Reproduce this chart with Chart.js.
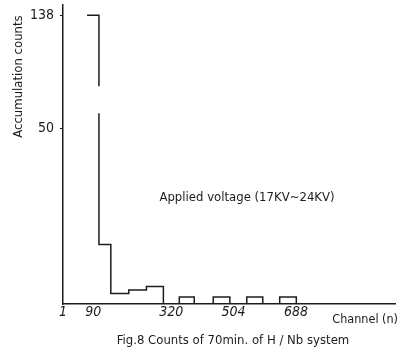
<!DOCTYPE html>
<html>
<head>
<meta charset="utf-8">
<script src="https://cdn.jsdelivr.net/npm/chart.js@4/dist/chart.umd.min.js"></script>
<style>
  html, body { margin: 0; background: #fff; }
  #wrap { width: 402px; height: 362px; }
</style>
</head>
<body>
<div id="wrap"><canvas id="chart"></canvas></div>
<script>
// histogram: each bin starts at a channel and holds a count
const binStarts = [72, 107, 142, 195, 247, 297, 344, 388, 444, 493, 543, 590, 640, 689];
const binCounts = [138, 17, 3, 4, 5, 0, 2, 0, 2, 0, 2, 0, 2, 0];
const channelTicks = [1, 90, 320, 504, 688];
const countTicks = [50, 138];
const yTitle = 'Accumulation counts';
const caption = 'Fig.8 Counts of 70min. of H / Nb system';
const note = 'Applied voltage (17KV~24KV)';

const BREAK_AT = 50;     // y axis is squeezed above this count
const LOW_SHARE = 0.586; // share of axis height used by 0..50

const ink = '#1c1c1c';
const font = "'DejaVu Sans Condensed', 'DejaVu Sans', sans-serif";

// linear scale with a break: 0..50 normal, above that compressed
class BrokenLinearScale extends Chart.LinearScale {
  toDecimal(v) {
    if (v <= BREAK_AT) return (v - this.min) / (BREAK_AT - this.min) * LOW_SHARE;
    return LOW_SHARE + (v - BREAK_AT) / (this.max - BREAK_AT) * (1 - LOW_SHARE);
  }
  getPixelForValue(v) {
    if (v === null || isNaN(v)) return NaN;
    return this.getPixelForDecimal(this.toDecimal(v));
  }
  getValueForPixel(p) {
    const d = this.getDecimalForPixel(p);
    if (d <= LOW_SHARE) return this.min + d / LOW_SHARE * (BREAK_AT - this.min);
    return BREAK_AT + (d - LOW_SHARE) / (1 - LOW_SHARE) * (this.max - BREAK_AT);
  }
}
BrokenLinearScale.id = 'brokenLinear';
BrokenLinearScale.defaults = Chart.LinearScale.defaults;
Chart.register(BrokenLinearScale);

// gap in the tall bar where the axis is broken, plus the loose texts
const extras = {
  id: 'extras',
  afterDatasetsDraw(chart) {
    const { ctx, scales: { x, y } } = chart;
    const px = x.getPixelForValue(binStarts[1]);
    const top = y.getPixelForValue(83), bottom = y.getPixelForValue(62);
    ctx.save();
    ctx.fillStyle = '#fff';
    ctx.fillRect(px - 3, top, 6, bottom - top);
    ctx.restore();
  },
  afterDraw(chart) {
    const { ctx, scales: { x, y } } = chart;
    ctx.save();
    ctx.fillStyle = ink;
    ctx.textBaseline = 'middle';
    ctx.textAlign = 'center';
    ctx.font = '13px ' + font;
    ctx.fillText(note, 247, 198);
    ctx.fillText(caption, 233, 341);
    ctx.textAlign = 'right';
    ctx.font = '12.5px ' + font;
    ctx.fillText('Channel (n)', x.right + 3, 320);

    // y title sits up by the 138 label, reading bottom to top
    ctx.translate(19, y.getPixelForValue(138));
    ctx.rotate(-Math.PI / 2);
    ctx.textAlign = 'right';
    ctx.font = '13px ' + font;
    ctx.fillText(yTitle, 0, 0);
    ctx.restore();
  }
};

new Chart(document.getElementById('chart'), {
  type: 'line',
  data: {
    datasets: [{
      data: binStarts.map((c, i) => ({ x: c, y: binCounts[i] })),
      stepped: 'before',
      borderColor: ink,
      borderWidth: 1.5,
      pointRadius: 0,
      fill: false
    }]
  },
  options: {
    responsive: true,
    maintainAspectRatio: false,
    animation: false,
    layout: { padding: { top: 5, right: 7, left: 0, bottom: 0 } },
    plugins: {
      legend: { display: false },
      tooltip: { enabled: false }
    },
    scales: {
      x: {
        type: 'linear',
        min: 1,
        max: 980,
        afterBuildTicks: s => { s.ticks = channelTicks.map(v => ({ value: v })); },
        afterFit: s => { s.height = 58; s.paddingLeft = 0; s.paddingRight = 0; },
        border: { display: true, color: ink, width: 1.5 },
        grid: { display: false, drawTicks: false },
        ticks: {
          color: ink,
          padding: 0,
          maxRotation: 0,
          font: { family: font, size: 14, style: 'italic' },
          callback: v => String(v)
        }
      },
      y: {
        type: 'brokenLinear',
        min: 0,
        max: 146,
        afterBuildTicks: s => { s.ticks = countTicks.map(v => ({ value: v })); },
        afterFit: s => { s.width = 63; s.paddingTop = 0; s.paddingBottom = 0; },
        border: { display: true, color: ink, width: 1.5 },
        grid: { display: true, drawOnChartArea: false, tickLength: 3, color: ink },
        ticks: {
          color: ink,
          padding: 6,
          font: { family: font, size: 14 },
          callback: v => String(v)
        }
      }
    }
  },
  plugins: [extras]
});
</script>
</body>
</html>
